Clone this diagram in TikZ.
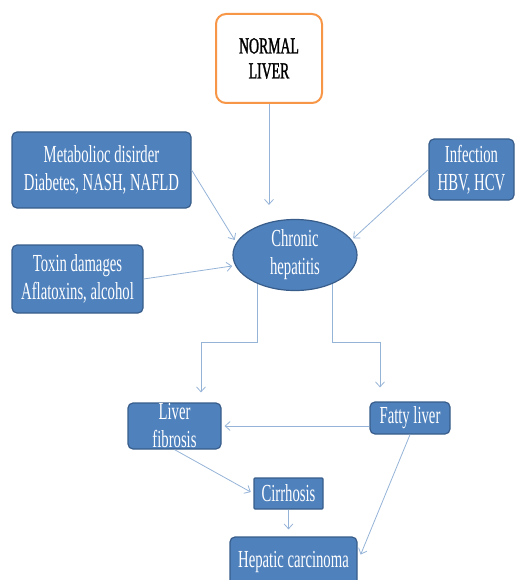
\documentclass[tikz,border=0pt]{standalone}
\usepackage{fontspec}
\setmainfont{Liberation Serif}[FakeStretch=0.6]
\newfontfamily\heavyserif{Liberation Serif}[FakeStretch=0.6,FakeBold=1.2]
\usetikzlibrary{shapes.geometric,arrows.meta}

\definecolor{boxfill}{HTML}{4F81BD}
\definecolor{boxedge}{HTML}{385D8A}
\definecolor{linkblue}{HTML}{95B3D7}
\definecolor{startedge}{HTML}{F79646}

\tikzset{
    bluebox/.style={draw=boxedge,fill=boxfill,rounded corners=5pt,line width=1.2pt,
        text=white,align=center,inner sep=0pt,font=\fontsize{24.5}{28}\selectfont},
    link/.style={draw=linkblue,line width=0.8pt,-{Straight Barb[length=5pt,width=9pt]}}
}

\begin{document}
\begin{tikzpicture}[x=1pt,y=-1pt]
    \useasboundingbox (0,0) rectangle (515,580);
    % start and causes
    \node (normal) at (269,58.5) [draw=startedge,fill=white,line width=2pt,rounded corners=10pt,
        minimum width=106pt,minimum height=89pt,align=center,inner sep=0pt,
        font=\heavyserif\fontsize{23}{25}\selectfont] {NORMAL\\LIVER};
    \node (metab) at (101.5,170) [bluebox,minimum width=179pt,minimum height=76pt] {Metabolioc disirder\\Diabetes, NASH, NAFLD};
    \node (toxin) at (77.5,279) [bluebox,minimum width=131pt,minimum height=68pt] {Toxin damages\\Aflatoxins, alcohol};
    \node (infect) at (471.5,169.5) [bluebox,minimum width=85pt,minimum height=61pt] {Infection\\HBV, HCV};
    \node (chronic) at (295,255) [bluebox,ellipse,minimum width=124pt,minimum height=66pt] {Chronic\\hepatitis};
    % outcomes
    \node (fibrosis) at (174.5,426) [bluebox,minimum width=93pt,minimum height=46pt] {Liver\\fibrosis};
    \node (fatty) at (410,418) [bluebox,minimum width=80pt,minimum height=32pt] {Fatty liver};
    \node (cirrh) at (288.5,493.5) [bluebox,rounded corners=1pt,minimum width=69pt,minimum height=31pt] {Cirrhosis};
    \node (carcin) at (293.5,562) [bluebox,minimum width=127pt,minimum height=50pt] {Hepatic carcinoma};

    \coordinate (splitL) at (201,342);
    \coordinate (splitR) at (380,342);

    \draw[link,shorten >=14pt] (normal.south) -- (normal.south |- chronic.north);
    \draw[link,shorten >=3pt] (metab.east) -- (chronic.168);
    \draw[link,shorten >=3pt] (toxin.east) -- (chronic.190);
    \draw[link,shorten >=2pt] (infect.west) -- (chronic.15);
    \draw[link,shorten >=10pt] (chronic.218) |- (splitL) -- (splitL |- fibrosis.north);
    \draw[link,shorten >=14pt] (chronic.322) |- (splitR) -- (splitR |- fatty.north);
    \draw[link,shorten >=3pt] (fatty.west |- fibrosis.east) -- (fibrosis.east);
    \draw[link,shorten >=3pt] (fibrosis.south) -- (cirrh.west);
    \draw[link,shorten >=7pt] (cirrh.south) -- (cirrh.south |- carcin.north);
    \draw[link,shorten >=8pt] (fatty.south) -- (carcin.east);
\end{tikzpicture}
\end{document}
